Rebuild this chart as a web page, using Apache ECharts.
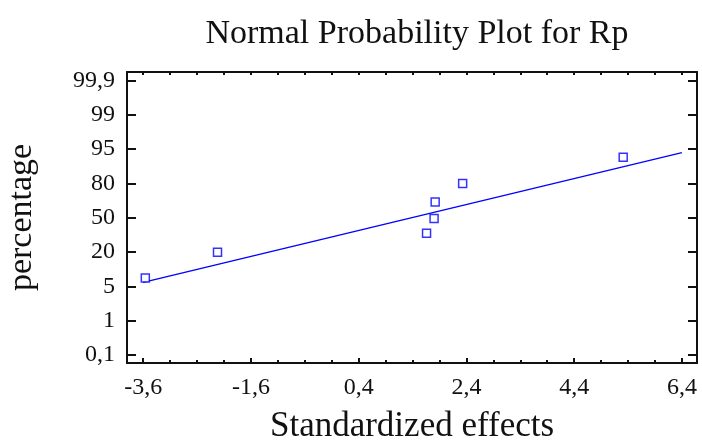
<!DOCTYPE html>
<html>
<head>
<meta charset="utf-8">
<script src="https://cdn.jsdelivr.net/npm/echarts@6/dist/echarts.min.js"></script>
<style>
  html, body { margin: 0; padding: 0; background: #fff; }
  #chart { width: 702px; height: 442px; }
</style>
</head>
<body>
<div id="chart"></div>
<script>
// standardized effects (x) and plotting position on the probability scale (y, 0 = 0,1% ... 8 = 99,9%)
const effects = [-3.56, -2.22, 1.66, 1.80, 1.82, 2.33, 5.31]
const positions = [2.25, 3.00, 3.55, 3.98, 4.46, 5.00, 5.76]

// fitted reference line end points
const lineX = [-3.6, 6.4]
const lineY = [2.12, 5.90]

const xTicks = [-3.6, -1.6, 0.4, 2.4, 4.4, 6.4]
const xMinorTicks = [-3.6, -3.1, -2.6, -2.1, -1.6, -1.1, -0.6, -0.1, 0.4, 0.9, 1.4, 1.9, 2.4, 2.9, 3.4, 3.9, 4.4, 4.9, 5.4, 5.9, 6.4]
const yTicks = [0, 1, 2, 3, 4, 5, 6, 7, 8]
const yTickLabels = ['0,1', '1', '5', '20', '50', '80', '95', '99', '99,9']

const FONT = 'Liberation Serif'
const BLUE = '#0000ff'
const INK = '#111'

const chart = echarts.init(document.getElementById('chart'))

const xMin = -3.9
const xMax = 6.68
const yMin = -0.227
const yMax = 8.245

const frameLine = { show: true, onZero: false, lineStyle: { color: INK, width: 2 } }

chart.setOption({
  animation: false,
  title: {
    text: 'Normal Probability Plot for Rp',
    left: 412,
    top: 12,
    textAlign: 'center',
    textStyle: { fontFamily: FONT, fontSize: 34, fontWeight: 'normal', color: INK },
  },
  grid: { left: 127, right: 5, top: 72, bottom: 79, containLabel: false, outerBoundsMode: 'none' },
  xAxis: [
    {
      type: 'value',
      position: 'bottom',
      min: xMin,
      max: xMax,
      name: 'Standardized effects',
      nameLocation: 'middle',
      nameGap: 46,
      nameTextStyle: { fontFamily: FONT, fontSize: 35, color: INK },
      axisLine: frameLine,
      axisTick: { show: true, inside: true, length: 5, customValues: xTicks, lineStyle: { color: INK, width: 2 } },
      axisLabel: {
        customValues: xTicks,
        margin: 13,
        fontFamily: FONT,
        fontSize: 24,
        color: INK,
        formatter: v => v.toFixed(1).replace('.', ','),
      },
      splitLine: { show: false },
    },
    {
      type: 'value',
      position: 'bottom',
      min: xMin,
      max: xMax,
      axisLine: { show: false, onZero: false },
      axisTick: { show: true, inside: true, length: 3, customValues: xMinorTicks, lineStyle: { color: INK, width: 2 } },
      axisLabel: { show: false },
      splitLine: { show: false },
    },
    {
      type: 'value',
      position: 'top',
      min: xMin,
      max: xMax,
      axisLine: frameLine,
      axisTick: { show: true, inside: true, length: 3, customValues: xMinorTicks, lineStyle: { color: INK, width: 2 } },
      axisLabel: { show: false },
      splitLine: { show: false },
    },
  ],
  yAxis: [
    {
      type: 'value',
      position: 'left',
      min: yMin,
      max: yMax,
      name: 'percentage',
      nameLocation: 'middle',
      nameGap: 88,
      nameTextStyle: { fontFamily: FONT, fontSize: 34, color: INK },
      axisLine: frameLine,
      axisTick: { show: true, inside: true, length: 9, customValues: yTicks, lineStyle: { color: INK, width: 2 } },
      axisLabel: {
        customValues: yTicks,
        margin: 12,
        fontFamily: FONT,
        fontSize: 24,
        color: INK,
        formatter: v => yTickLabels[Math.round(v)],
      },
      splitLine: { show: false },
    },
    {
      type: 'value',
      position: 'right',
      min: yMin,
      max: yMax,
      axisLine: frameLine,
      axisTick: { show: true, inside: true, length: 9, customValues: yTicks, lineStyle: { color: INK, width: 2 } },
      axisLabel: { show: false },
      splitLine: { show: false },
    },
  ],
  series: [
    {
      type: 'line',
      data: lineX.map((x, i) => [x, lineY[i]]),
      showSymbol: false,
      lineStyle: { color: BLUE, width: 1.3 },
      silent: true,
    },
    {
      type: 'scatter',
      data: effects.map((x, i) => [x, positions[i]]),
      symbol: 'rect',
      symbolSize: 8,
      itemStyle: { color: '#fff', borderColor: BLUE, borderWidth: 1.5 },
      z: 3,
    },
  ],
})
</script>
</body>
</html>
